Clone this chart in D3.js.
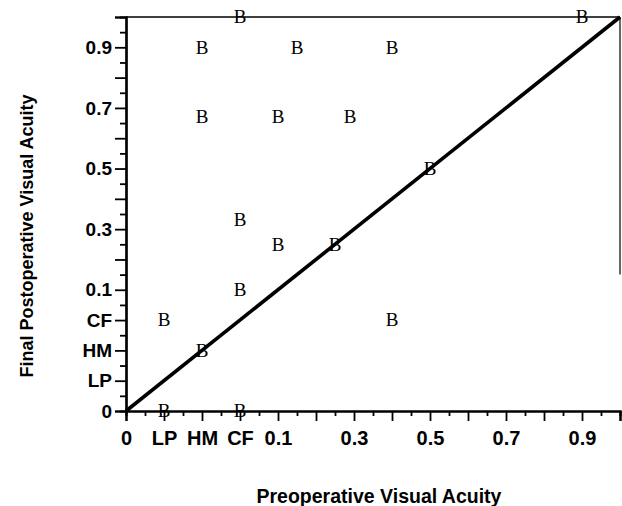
<!DOCTYPE html>
<html>
<head>
<meta charset="utf-8">
<script src="https://cdn.jsdelivr.net/npm/d3@7"></script>
<style>
  body { margin: 0; background: #fff; }
  .tick text { font-family: "Liberation Sans", Arial, sans-serif; font-weight: bold; fill: #000; }
  .title { font-family: "Liberation Sans", Arial, sans-serif; font-weight: bold; font-size: 18px; fill: #000; }
  .mark { font-family: "Liberation Serif", "Times New Roman", serif; font-size: 19px; fill: #000; }
</style>
</head>
<body>
<script>
/* Low-vision codes take the first slots of the axis, then decimal acuity 0.1 .. 1.0 */
var lowCodes = ["0", "LP", "HM", "CF"];

/* Tick labels shown on both axes */
var tickLabels = ["0", "LP", "HM", "CF", "0.1", "0.3", "0.5", "0.7", "0.9"];

/* One entry per eye: preoperative and final postoperative acuity */
var preOp  = ["CF", 0.9, "HM", 0.15, 0.4, "HM", 0.1, 0.29, 0.5, "CF", 0.1, 0.25, "CF", "LP", "HM", 0.4, "LP", "CF"];
var postOp = [1.0, 1.0, 0.9, 0.9, 0.9, 0.67, 0.67, 0.67, 0.5, 0.33, 0.25, 0.25, 0.1, "CF", "HM", "CF", 0, 0];

/* Line of no change */
var identity = [0, 1.0];

var margin = {top: 17, right: 2, bottom: 95, left: 126},
    width = 622 - margin.left - margin.right,
    height = 506 - margin.top - margin.bottom;

// maps an acuity value (code or decimal) to its position on the axis
function toUnit(v){
    var i = lowCodes.indexOf(String(v));
    if(i >= 0) return i;
    return 4 + (+v - 0.1) * 10;
}

var maxUnit = toUnit(1.0);

var x = d3.scaleLinear()
    .domain([0, maxUnit])
    .range([0, width]);
var y = d3.scaleLinear()
    .domain([0, maxUnit])
    .range([height, 0]);

var svg = d3.select("body").append("svg")
    .attr("width", 622)
    .attr("height", 506)
    .append("g")
    .attr("transform", "translate(" + margin.left + "," + margin.top + ")");

var majorTicks = d3.range(0, maxUnit + 0.01, 1);
var minorTicks = d3.range(0.5, maxUnit, 1);
var labelAt = {};
tickLabels.forEach(function(l){ labelAt[toUnit(l)] = l; });
function fmt(d){ return labelAt[d] !== undefined ? labelAt[d] : ""; }

// frame: top edge and the visible part of the right edge
svg.append("line")
    .attr("x1", x(0)).attr("x2", x(maxUnit))
    .attr("y1", y(maxUnit)).attr("y2", y(maxUnit))
    .attr("stroke", "#000").attr("stroke-width", 1.6);
svg.append("line")
    .attr("x1", x(maxUnit)).attr("x2", x(maxUnit))
    .attr("y1", y(maxUnit)).attr("y2", y(toUnit(0.15)))
    .attr("stroke", "#000").attr("stroke-width", 1.2);

// x axis
var gx = svg.append("g").attr("transform", "translate(0," + height + ")");
gx.append("g").call(d3.axisBottom(x).tickValues(minorTicks).tickSize(5).tickFormat(""));
gx.append("g").call(d3.axisBottom(x).tickValues(majorTicks).tickSize(10).tickPadding(10).tickFormat(fmt));

// y axis
var gy = svg.append("g");
gy.append("g").call(d3.axisLeft(y).tickValues(minorTicks).tickSize(6).tickFormat(""));
gy.append("g").call(d3.axisLeft(y).tickValues(majorTicks).tickSize(11).tickPadding(3).tickFormat(fmt));

svg.selectAll(".domain").attr("stroke-width", 2.2);
svg.selectAll(".tick line").attr("stroke-width", 1.8);
gx.selectAll(".tick text").attr("font-size", 20);
gy.selectAll(".tick text").attr("font-size", 19);

// identity line
svg.append("line")
    .attr("x1", x(toUnit(identity[0]))).attr("y1", y(toUnit(identity[0])))
    .attr("x2", x(toUnit(identity[1]))).attr("y2", y(toUnit(identity[1])))
    .attr("stroke", "#000")
    .attr("stroke-width", 3.6);

// plotted eyes, drawn as the letter B
svg.selectAll(".mark")
    .data(preOp)
    .enter().append("text")
    .attr("class", "mark")
    .attr("text-anchor", "middle")
    .attr("x", function(d){ return x(toUnit(d)); })
    .attr("y", function(d, i){ return y(toUnit(postOp[i])); })
    .attr("dy", "0.33em")
    .text("B");

// axis titles
svg.append("text")
    .attr("class", "title")
    .attr("font-size", 19)
    .style("font-size", "19.5px")
    .attr("text-anchor", "middle")
    .attr("x", 379 - margin.left)
    .attr("y", 503 - margin.top)
    .text("Preoperative Visual Acuity");

svg.append("text")
    .attr("class", "title")
    .attr("text-anchor", "middle")
    .attr("transform", "translate(" + (33 - margin.left) + "," + (236 - margin.top) + ") rotate(-90)")
    .text("Final Postoperative Visual Acuity");
</script>
</body>
</html>
